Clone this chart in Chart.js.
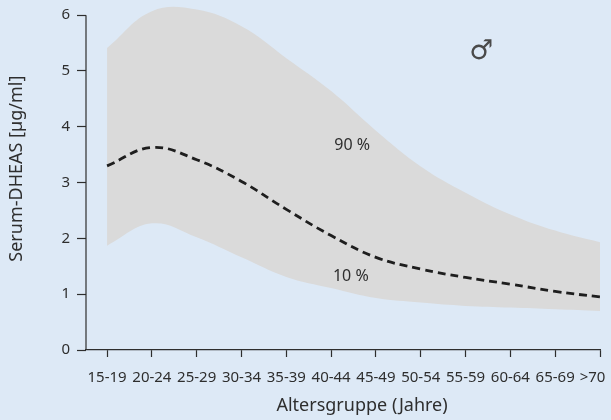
<!DOCTYPE html>
<html>
<head>
<meta charset="utf-8">
<script src="https://cdn.jsdelivr.net/npm/chart.js@4/dist/chart.umd.min.js"></script>
<style>
  html, body { margin: 0; padding: 0; background: #dde9f6; }
  #wrap { width: 611px; height: 420px; }
</style>
</head>
<body>
<div id="wrap"><canvas id="myChart" width="611" height="420"></canvas></div>
<script>
// Age groups along the x axis
const ageGroups = ["15-19", "20-24", "25-29", "30-34", "35-39", "40-44", "45-49", "50-54", "55-59", "60-64", "65-69", ">70"];
// Percentiles of serum DHEAS (µg/ml)
const p90 = [5.41, 6.07, 6.10, 5.80, 5.23, 4.64, 3.93, 3.29, 2.82, 2.43, 2.14, 1.93];
const median = [3.30, 3.63, 3.41, 3.02, 2.52, 2.05, 1.66, 1.45, 1.30, 1.18, 1.05, 0.95];
const p10 = [1.87, 2.27, 2.02, 1.66, 1.31, 1.11, 0.93, 0.85, 0.79, 0.76, 0.73, 0.70];
const yTicks = [0, 1, 2, 3, 4, 5, 6];

const toPoints = (arr) => arr.map((v, i) => ({ x: i, y: v }));
const axisColor = "#2e2e2e";
const font = { family: "'Noto Sans', sans-serif", size: 15 };

// axis line of y (only up to the 6 tick), axis titles and in-plot labels
const labelPlugin = {
  id: "labels",
  afterDraw(chart) {
    const { ctx, scales } = chart;
    const x = scales.x, y = scales.y;
    ctx.save();
    ctx.strokeStyle = axisColor;
    ctx.lineWidth = 1.2;
    ctx.beginPath();
    ctx.moveTo(x.left, y.getPixelForValue(yTicks[0]));
    ctx.lineTo(x.left, y.getPixelForValue(yTicks[yTicks.length - 1]));
    ctx.stroke();

    ctx.fillStyle = axisColor;
    ctx.textAlign = "center";
    ctx.textBaseline = "middle";

    ctx.font = "16px 'Noto Sans', sans-serif";
    ctx.fillText("90 %", x.getPixelForValue(5.47), y.getPixelForValue(3.67));
    ctx.fillText("10 %", x.getPixelForValue(5.44), y.getPixelForValue(1.31));

    ctx.fillStyle = "#4a4a4a";
    ctx.font = "27px 'DejaVu Sans', sans-serif";
    ctx.fillText("\u2642", x.getPixelForValue(8.35), y.getPixelForValue(5.34));

    ctx.fillStyle = axisColor;
    ctx.font = "18px 'Noto Sans', sans-serif";
    ctx.fillText("Altersgruppe (Jahre)", x.getPixelForValue(5.69), 406);

    ctx.translate(17, y.getPixelForValue(3.25));
    ctx.rotate(-Math.PI / 2);
    ctx.fillText("Serum-DHEAS [\u00b5g/ml]", 0, 0);
    ctx.restore();
  }
};

const bgPlugin = {
  id: "bg",
  beforeDraw(chart) {
    const ctx = chart.ctx;
    ctx.save();
    ctx.fillStyle = "#dde9f6";
    ctx.fillRect(0, 0, chart.width, chart.height);
    ctx.restore();
  }
};

const ctx = document.getElementById("myChart").getContext("2d");
const myChart = new Chart(ctx, {
  type: "line",
  data: {
    datasets: [
      {
        label: "90 %",
        data: toPoints(p90),
        borderWidth: 0,
        pointRadius: 0,
        tension: 0.4,
        backgroundColor: "#dadada",
        fill: "+2",
        order: 2
      },
      {
        label: "Median",
        data: toPoints(median),
        borderColor: "#1e1e1e",
        borderWidth: 2.8,
        borderDash: [8, 5],
        pointRadius: 0,
        tension: 0.4,
        fill: false,
        order: 0
      },
      {
        label: "10 %",
        data: toPoints(p10),
        borderWidth: 0,
        pointRadius: 0,
        tension: 0.4,
        fill: false,
        order: 1
      }
    ]
  },
  options: {
    responsive: false,
    animation: false,
    devicePixelRatio: 1,
    layout: { padding: { top: 4, right: 11, left: 0, bottom: 0 } },
    plugins: { legend: { display: false }, tooltip: { enabled: false } },
    scales: {
      x: {
        type: "linear",
        min: -0.47,
        max: ageGroups.length - 1,
        afterBuildTicks: (scale) => {
          scale.ticks = ageGroups.map((_, i) => ({ value: i }));
        },
        afterFit: (scale) => {
          scale.height = 70;
          scale.paddingLeft = 0;
          scale.paddingRight = 0;
        },
        grid: { drawOnChartArea: false, color: axisColor, tickLength: 7, tickWidth: 1.2 },
        border: { color: axisColor, width: 1.2 },
        ticks: {
          autoSkip: false,
          maxRotation: 0,
          padding: 12,
          color: axisColor,
          font: font,
          // last label sits a little left of its tick so it fits the picture
          callback: (v) => v === ageGroups.length - 1 ? ageGroups[v] + "\u2002\u2002" : ageGroups[v]
        }
      },
      y: {
        min: 0,
        max: 6.2,
        afterBuildTicks: (scale) => {
          scale.ticks = yTicks.map((v) => ({ value: v }));
        },
        afterFit: (scale) => {
          scale.width = 86;
          scale.paddingTop = 0;
          scale.paddingBottom = 0;
        },
        grid: { drawOnChartArea: false, color: axisColor, tickLength: 9, tickWidth: 1.2 },
        border: { display: false },
        ticks: { padding: 7, color: axisColor, font: font }
      }
    }
  },
  plugins: [bgPlugin, labelPlugin]
});
</script>
</body>
</html>
